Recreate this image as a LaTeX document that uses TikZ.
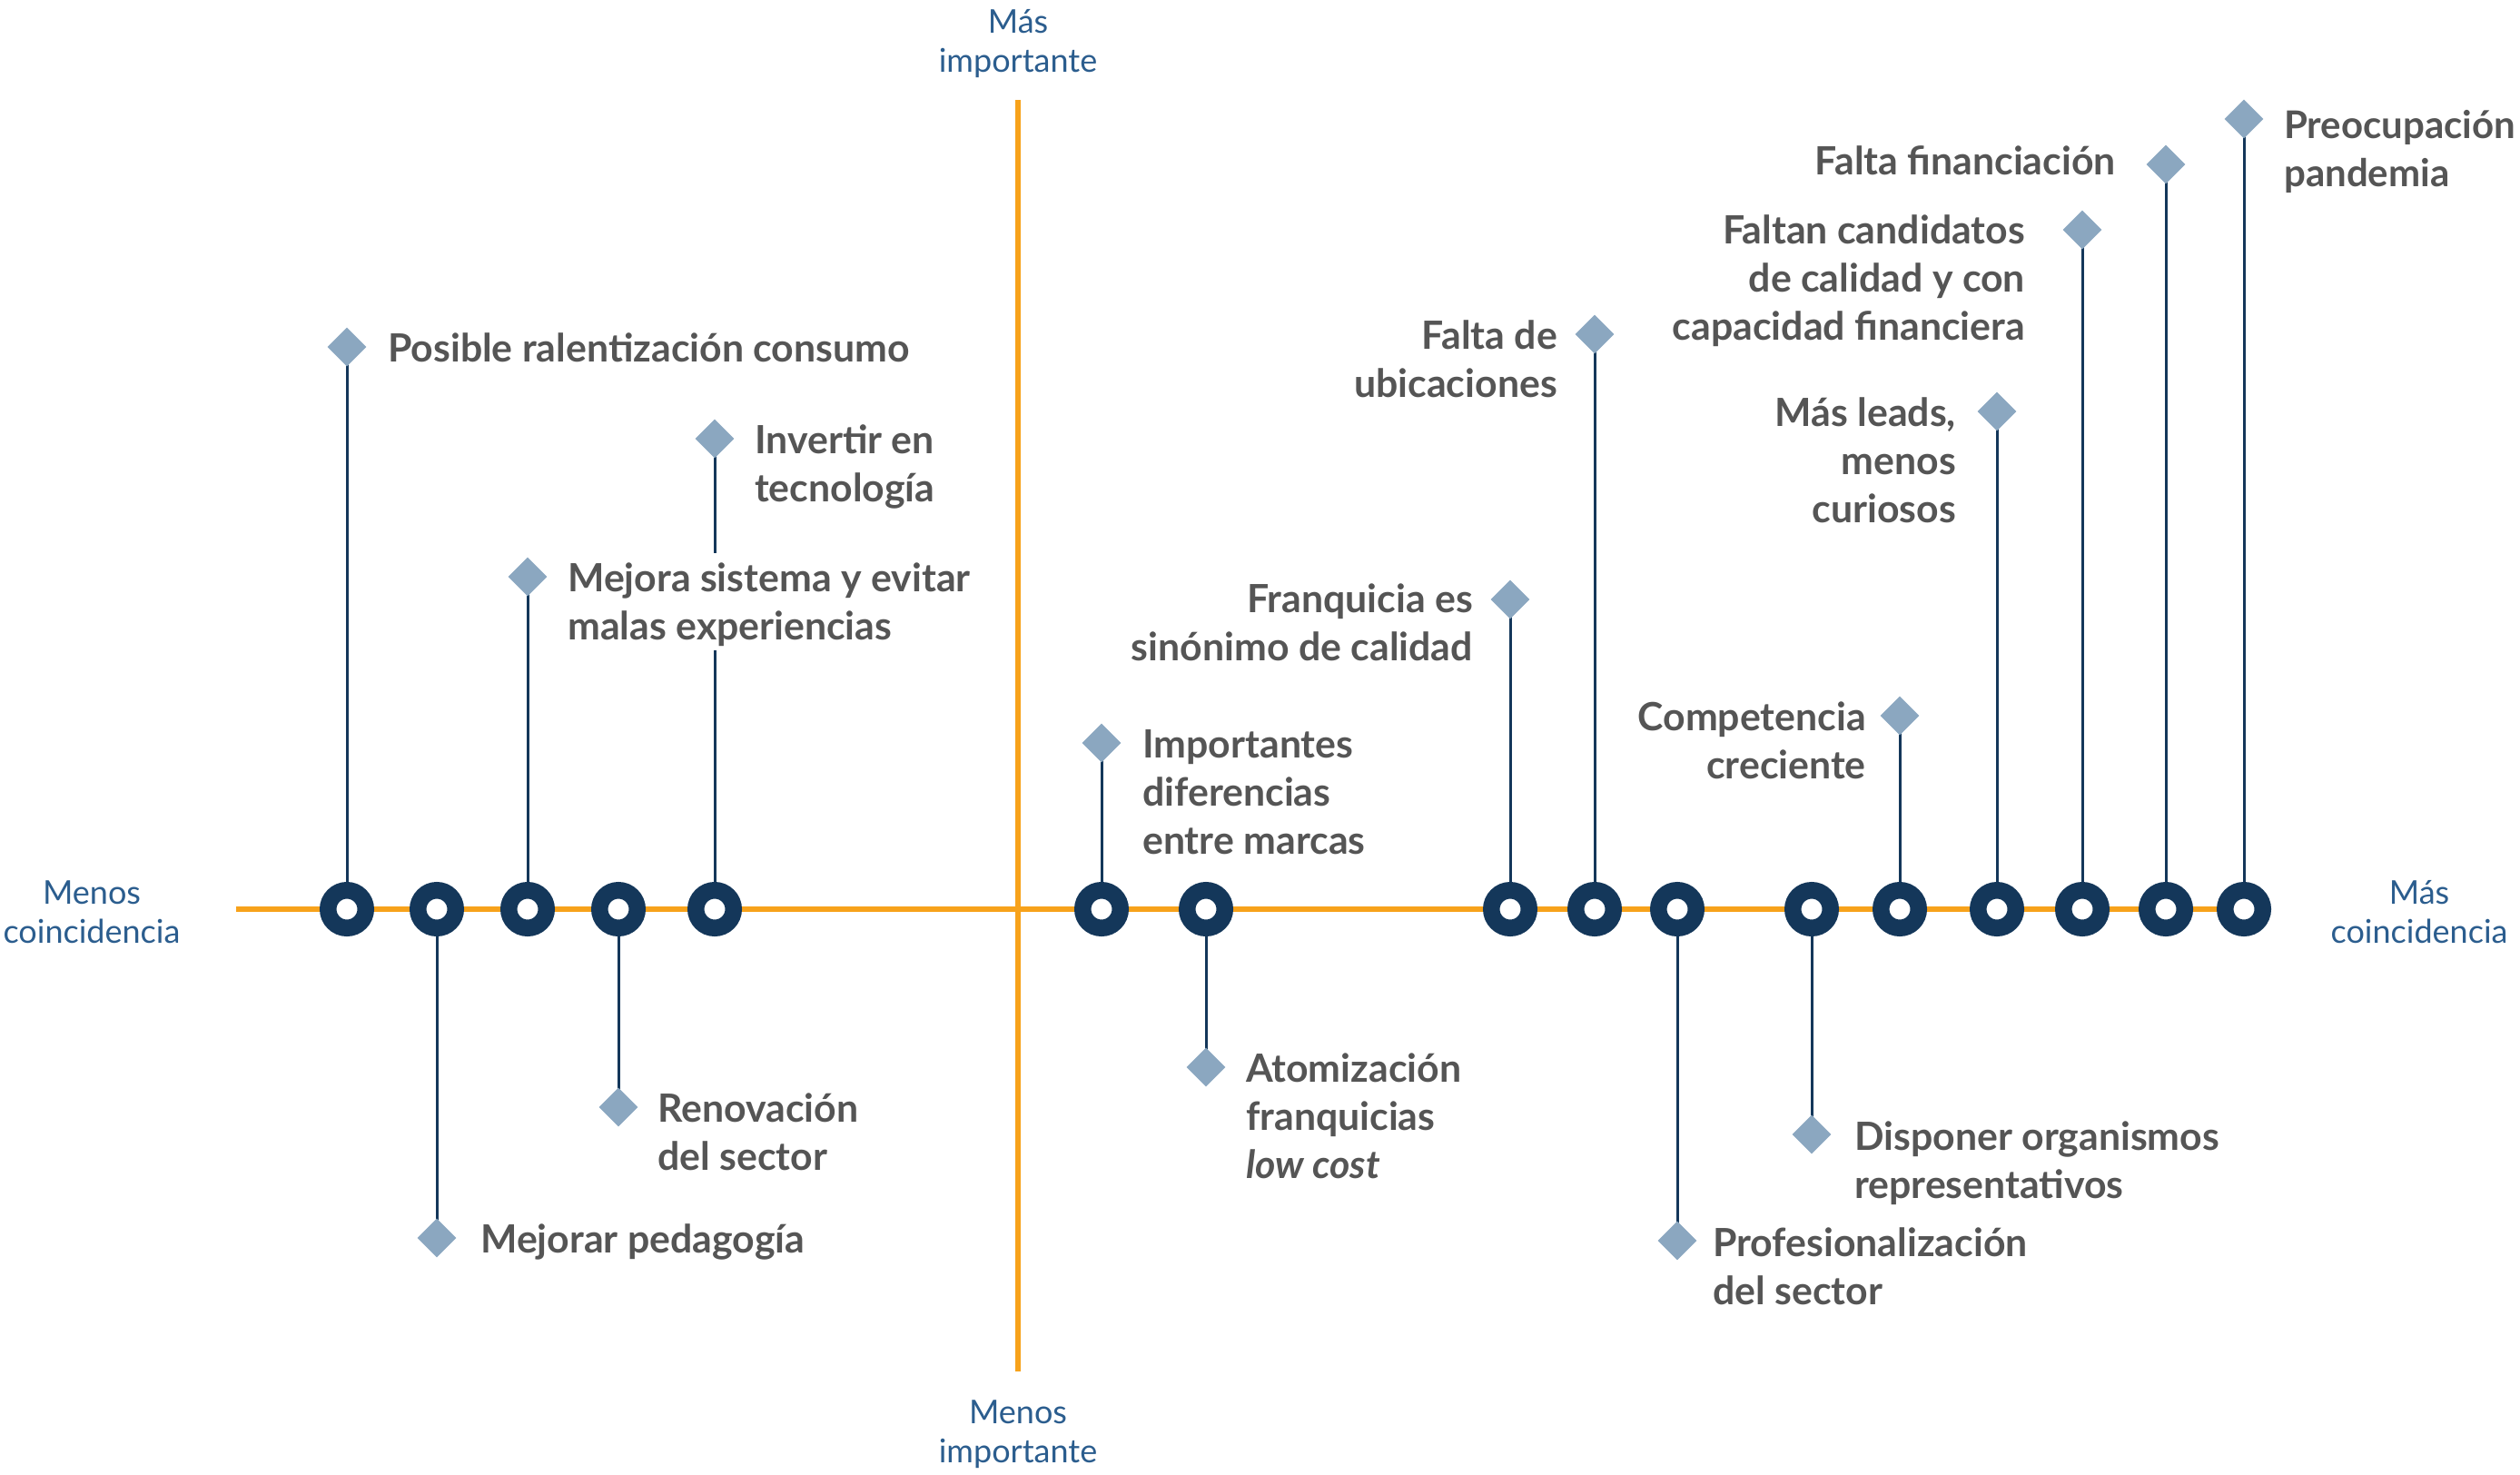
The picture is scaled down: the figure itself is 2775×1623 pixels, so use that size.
\documentclass[tikz,border=0pt]{standalone}
\usepackage{fontspec}
\setmainfont{Lato}
\usetikzlibrary{shapes.geometric,backgrounds}
\definecolor{navy}{HTML}{14375A}
\definecolor{orng}{HTML}{F7A21B}
\definecolor{dia}{HTML}{8BA7C0}
\definecolor{txt}{HTML}{555555}
\definecolor{axb}{HTML}{2B5D8E}
\newcommand{\lblfont}{\fontsize{42.8}{53}\selectfont\bfseries}
\newcommand{\lblfontb}{\fontsize{42}{53}\selectfont\bfseries}
\newcommand{\axfont}{\fontsize{36}{43}\selectfont}
\begin{document}
\begin{tikzpicture}[x=1pt,y=-1pt,
  ring/.style={circle,draw=navy,fill=white,line width=18.5pt,minimum size=41.5pt,inner sep=0pt},
  dmd/.style={diamond,fill=dia,minimum width=43pt,minimum height=43pt,inner sep=0pt,aspect=1},
  stem/.style={draw=navy,line width=3pt},
  axisline/.style={draw=orng,line width=5.5pt},
  lblL/.style={anchor=north west,align=left,inner sep=0pt,text=txt,font=\lblfont},
  lblR/.style={anchor=north east,align=right,inner sep=0pt,text=txt,font=\lblfont},
  axlbl/.style={align=center,text=axb,font=\axfont,inner sep=0pt}]
\useasboundingbox (0,0) rectangle (2775,1623);

% axis ends
\coordinate (hl) at (260,1001);
\coordinate (hr) at (2471,1001);
\coordinate (vt) at (1121,110);
\coordinate (vb) at (1121,1510);

% circles on the axis
\node[ring] (c1) at (382,1001) {};
\node[ring] (c2) at (481,1001) {};
\node[ring] (c3) at (581,1001) {};
\node[ring] (c4) at (681,1001) {};
\node[ring] (c5) at (787,1001) {};
\node[ring] (c6) at (1213,1001) {};
\node[ring] (c7) at (1328,1001) {};
\node[ring] (c8) at (1663,1001) {};
\node[ring] (c9) at (1756,1001) {};
\node[ring] (c10) at (1847,1001) {};
\node[ring] (c11) at (1995,1001) {};
\node[ring] (c12) at (2092,1001) {};
\node[ring] (c13) at (2199,1001) {};
\node[ring] (c14) at (2293,1001) {};
\node[ring] (c15) at (2385,1001) {};
\node[ring] (c16) at (2471,1001) {};

% diamonds
\node[dmd] (d1) at (382,382) {};
\node[dmd] (d2) at (481,1363) {};
\node[dmd] (d3) at (581,635) {};
\node[dmd] (d4) at (681,1219) {};
\node[dmd] (d5) at (787,483) {};
\node[dmd] (d6) at (1213,818) {};
\node[dmd] (d7) at (1328,1175) {};
\node[dmd] (d8) at (1663,660) {};
\node[dmd] (d9) at (1756,368) {};
\node[dmd] (d10) at (1847,1366) {};
\node[dmd] (d11) at (1995,1249) {};
\node[dmd] (d12) at (2092,788) {};
\node[dmd] (d13) at (2199,453) {};
\node[dmd] (d14) at (2293,253) {};
\node[dmd] (d15) at (2385,181) {};
\node[dmd] (d16) at (2471,131) {};

\begin{pgfonlayer}{background}
\draw[axisline] (hl) -- (hr);
\draw[axisline] (vt) -- (vb);
\foreach \i in {1,...,16} {\draw[stem] (c\i.center) -- (d\i.center);}
\end{pgfonlayer}

% labels
\node[lblL] (l1) at (427,361) {\strut Posible ralentización consumo};
\node[lblL] (l2) at (529,1342) {\strut Mejorar pedagogía};
\node[lblL,fill=white,inner sep=5pt] (l3) at (620,609) {\strut Mejora sistema y evitar\\malas experiencias};
\node[lblL] (l4) at (724,1198) {\strut Renovación\\del sector};
\node[lblL] (l5) at (831,462) {\strut Invertir en\\tecnología};
\node[lblL] (l6) at (1258,797) {\strut Importantes\\diferencias\\entre marcas};
\node[lblL] (l7) at (1372,1154) {\strut Atomización\\franquicias\\\textit{low cost}};
\node[lblR] (l8) at (1622,637) {\strut Franquicia es\\sinónimo de calidad};
\node[lblR] (l9) at (1715,347) {\strut Falta de\\ubicaciones};
\node[lblL] (l10) at (1886,1346) {\strut Profesionalización\\del sector};
\node[lblL] (l11) at (2042,1229) {\strut Disponer organismos\\representativos};
\node[lblR] (l12) at (2055,767) {\strut Competencia\\creciente};
\node[lblR] (l13) at (2154,432) {\strut Más leads,\\menos\\curiosos};
\node[lblR] (l14) at (2230,231) {\strut Faltan candidatos\\de calidad y con\\capacidad financiera};
\node[lblR] (l15) at (2330,155) {\strut Falta financiación};
\node[lblL,font=\lblfontb] (l16) at (2515,115) {\strut Preocupación\\pandemia};

% axis labels
\node[axlbl] (a1) at (101,1004) {Menos\\coincidencia};
\node[axlbl] (a2) at (2664,1004) {Más\\coincidencia};
\node[axlbl] (a3) at (1121,48) {Más\\importante};
\node[axlbl] (a4) at (1121,1579) {Menos\\importante};
\end{tikzpicture}
\end{document}
